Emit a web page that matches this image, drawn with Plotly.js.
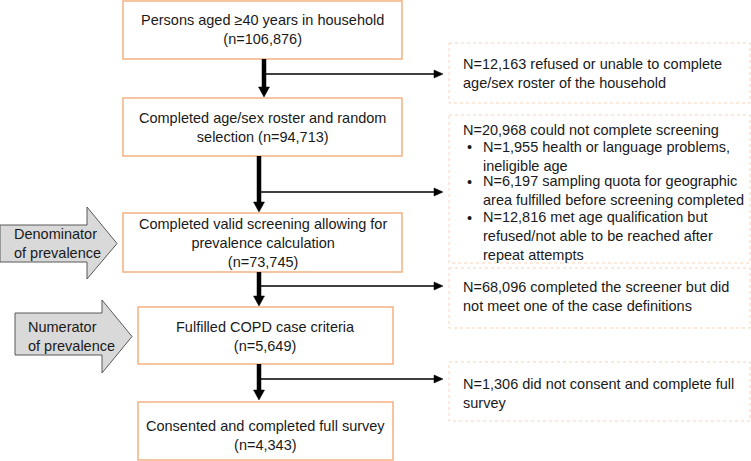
<!DOCTYPE html>
<html>
<head>
<meta charset="utf-8">
<script src="https://cdn.plot.ly/plotly-3.0.1.min.js"></script>
<style>html,body{margin:0;padding:0;background:#fff;}#chart{width:751px;height:461px;}</style>
</head>
<body>
<div id="chart"></div>
<script>
// ---- data ----
const stageLabels = [
  "Persons aged ≥40 years in household<br>",
  "Completed age/sex roster and random<br>selection ",
  "Completed valid screening allowing for<br>prevalence calculation<br>",
  "Fulfilled COPD case criteria<br>",
  "Consented and completed full survey<br>"
];
const stageCounts = [106876, 94713, 73745, 5649, 4343];

const excludedCounts = [12163, 20968, 68096, 1306];
const excludedLabels = [
  " refused or unable to complete<br>age/sex roster of the household",
  " could not complete screening",
  " completed the screener but did<br>not meet one of the case definitions",
  " did not consent and complete full<br>survey"
];
const screeningSubCounts = [1955, 6197, 12816];
const screeningSubLabels = [
  " health or language problems,<br>ineligible age",
  " sampling quota for geographic<br>area fulfilled before screening completed",
  " met age qualification but<br>refused/not able to be reached after<br>repeat attempts"
];
const sideLabels = ["Denominator<br>of prevalence", "Numerator<br>of prevalence"];

// ---- layout geometry (pixels in a 751x461 frame) ----
const fmt = v => v.toLocaleString('en-US');
const mainGeom = [
  {x0:123, x1:402, y0:1,   y1:59,  ty:29.5},
  {x0:123, x1:402, y0:98,  y1:156, ty:127},
  {x0:123, x1:402, y0:213, y1:272, ty:243},
  {x0:138, x1:393, y0:307, y1:364, ty:336.5},
  {x0:138, x1:393, y0:402, y1:460, ty:435}
];
const exGeom = [
  {y0:43,  y1:103, ty:73.5},
  {y0:115, y1:263, ty:130},
  {y0:268, y1:328, ty:296.5},
  {y0:362, y1:421, ty:393.5}
];
const subTy = [156, 190.5, 235.5];
const flowGeom = [
  {x:264, top:59,  tip:97,  hy:74},
  {x:259, top:156, tip:212, hy:192},
  {x:259, top:272, tip:306, hy:286},
  {x:259, top:364, tip:400, hy:379}
];

const FONT = {family:'"Liberation Sans", Arial, sans-serif', size:14.5, color:'#1a1a1a'};
const ORANGE = '#F4B183';
const shapes = [];
const annotations = [];

mainGeom.forEach((g,i) => {
  shapes.push({type:'rect', xref:'x', yref:'y', x0:g.x0, x1:g.x1, y0:g.y0, y1:g.y1,
    line:{color:ORANGE, width:1.5}, fillcolor:'#ffffff', layer:'below'});
  annotations.push({xref:'x', yref:'y', x:(g.x0+g.x1)/2, y:g.ty, showarrow:false,
    text: stageLabels[i] + '(n=' + fmt(stageCounts[i]) + ')', font:FONT, align:'center',
    xanchor:'center', yanchor:'middle'});
});

exGeom.forEach((g,i) => {
  shapes.push({type:'rect', xref:'x', yref:'y', x0:449, x1:750, y0:g.y0, y1:g.y1,
    line:{color:'#F9D3B8', width:1, dash:'dot'}, fillcolor:'rgba(0,0,0,0)'});
  annotations.push({xref:'x', yref:'y', x:461, y:g.ty, showarrow:false,
    text:'N=' + fmt(excludedCounts[i]) + excludedLabels[i], font:FONT, align:'left',
    xanchor:'left', yanchor:'middle'});
});

screeningSubCounts.forEach((c,i) => {
  const nLines = screeningSubLabels[i].split('<br>').length;
  const firstY = subTy[i] - (nLines-1)*17.6/2;
  annotations.push({xref:'x', yref:'y', x:469, y:firstY, showarrow:false, text:'•',
    font:FONT, xanchor:'center', yanchor:'middle'});
  annotations.push({xref:'x', yref:'y', x:481, y:subTy[i], showarrow:false,
    text:'N=' + fmt(c) + screeningSubLabels[i], font:FONT, align:'left',
    xanchor:'left', yanchor:'middle'});
});

flowGeom.forEach(f => {
  shapes.push({type:'line', xref:'x', yref:'y', x0:f.x, x1:f.x, y0:f.top, y1:f.tip-9,
    line:{color:'#000', width:4.5}});
  shapes.push({type:'path', xref:'x', yref:'y',
    path:`M${f.x-5.5},${f.tip-10} L${f.x+5.5},${f.tip-10} L${f.x},${f.tip} Z`,
    fillcolor:'#000', line:{color:'#000', width:0.5}});
  shapes.push({type:'line', xref:'x', yref:'y', x0:f.x, x1:436, y0:f.hy, y1:f.hy,
    line:{color:'#000', width:1.5}});
  shapes.push({type:'path', xref:'x', yref:'y',
    path:`M434,${f.hy-4} L443,${f.hy} L434,${f.hy+4} Z`,
    fillcolor:'#000', line:{color:'#000', width:0.5}});
});

// gray block arrows
const blockGeom = [
  {bx0:0,  bx1:87,  by0:225, by1:262, hy0:207, hy1:279, tx:117, ty:243.5, lx:12},
  {bx0:15, bx1:102, by0:313, by1:355, hy0:300, hy1:373, tx:132, ty:336.5, lx:26}
];
blockGeom.forEach((b,i) => {
  shapes.push({type:'path', xref:'x', yref:'y',
    path:`M${b.bx0},${b.by0} L${b.bx1},${b.by0} L${b.bx1},${b.hy0} L${b.tx},${b.ty} L${b.bx1},${b.hy1} L${b.bx1},${b.by1} L${b.bx0},${b.by1} Z`,
    fillcolor:'#d9d9d9', line:{color:'#595959', width:1}});
  annotations.push({xref:'x', yref:'y', x:b.lx, y:b.ty, showarrow:false,
    text:sideLabels[i], font:FONT, align:'left', xanchor:'left', yanchor:'middle'});
});

const layout = {
  width:751, height:461,
  margin:{l:0, r:0, t:0, b:0},
  paper_bgcolor:'#ffffff', plot_bgcolor:'#ffffff',
  xaxis:{range:[0,751], visible:false, fixedrange:true},
  yaxis:{range:[461,0], visible:false, fixedrange:true},
  showlegend:false,
  shapes:shapes,
  annotations:annotations
};
Plotly.newPlot('chart', [{x:[], y:[], type:'scatter', mode:'markers', hoverinfo:'skip'}], layout, {staticPlot:true});
</script>
</body>
</html>
